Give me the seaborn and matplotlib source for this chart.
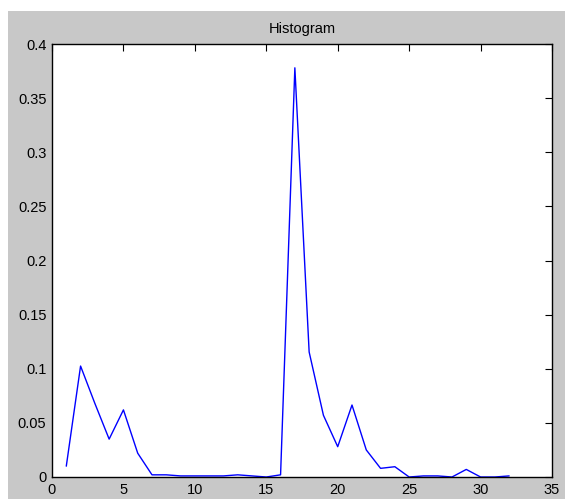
import matplotlib
matplotlib.use("Agg")
import matplotlib.pyplot as plt
import seaborn as sns
import pandas as pd
from matplotlib.patches import Rectangle

bins = list(range(1, 33))
freq = [0.010, 0.1025, 0.068, 0.035, 0.062, 0.022, 0.002, 0.002, 0.001, 0.001,
        0.001, 0.001, 0.002, 0.001, 0.000, 0.002, 0.378, 0.1155, 0.057, 0.028,
        0.0665, 0.025, 0.008, 0.0095, 0.000, 0.001, 0.001, 0.000, 0.007, 0.000,
        0.000, 0.001]
xticks = [0, 5, 10, 15, 20, 25, 30, 35]
yticks = [0, 0.05, 0.1, 0.15, 0.2, 0.25, 0.3, 0.35, 0.4]
ylabels = ["0", "0.05", "0.1", "0.15", "0.2", "0.25", "0.3", "0.35", "0.4"]
title = "Histogram"

df = pd.DataFrame({"bin": bins, "freq": freq})

sns.set_style("white")
plt.rcParams['font.family'] = ['Liberation Sans', 'DejaVu Sans']
plt.rcParams['text.color'] = 'black'

W, H = 565, 499
fig = plt.figure(figsize=(W / 100, H / 100), dpi=100)
fig.patch.set_facecolor("white")
fig.patches.append(Rectangle((8 / W, 0), 1 - 8 / W, 1 - 11 / H, transform=fig.transFigure,
                             facecolor="#c8c8c8", edgecolor="none", zorder=-10))

ax = fig.add_axes([52 / W, (H - 477) / H, 500 / W, 433 / H])
ax.set_facecolor("white")
sns.lineplot(data=df, x="bin", y="freq", ax=ax, color="#0000ff", linewidth=1.0)

ax.set_xlim(0, 35)
ax.set_ylim(0, 0.4)
ax.set_xticks(xticks)
ax.set_xticklabels([str(t) for t in xticks])
ax.set_yticks(yticks)
ax.set_yticklabels(ylabels)
ax.set_xlabel("")
ax.set_ylabel("")
ax.tick_params(direction="in", top=True, right=True, length=5, width=0.8,
               labelsize=10.5, colors="black", pad=4)
for s in ax.spines.values():
    s.set_visible(True)
    s.set_color("black")
    s.set_linewidth(1.0)
ax.set_title(title, fontsize=10.5, pad=8, color="black")

fig.savefig("out.png", dpi=100, facecolor=fig.get_facecolor())
